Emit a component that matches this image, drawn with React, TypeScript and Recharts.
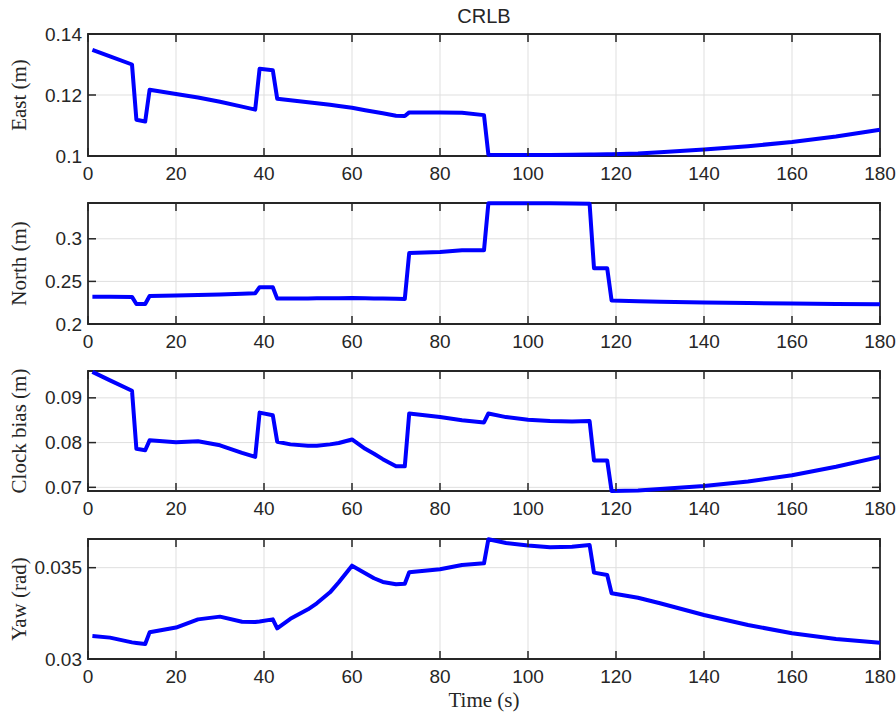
import React from 'react';
import { LineChart, Line, XAxis, YAxis, CartesianGrid, ReferenceArea } from 'recharts';

// sample times (s)
const TIME = [1, 5, 10, 11, 13, 14, 20, 25, 30, 35, 38, 39, 42, 43, 46, 50, 52, 55, 57, 60,
  63, 65, 67, 70, 72, 73, 80, 85, 90, 91, 95, 100, 105, 110, 114, 115, 118, 119, 125, 130,
  140, 150, 160, 170, 180];

const EAST = [0.1348, 0.1327, 0.1300, 0.1119, 0.1113, 0.1217, 0.1203, 0.1192, 0.1178, 0.1162,
  0.1152, 0.1286, 0.1281, 0.1188, 0.1183, 0.1176, 0.1173, 0.1168, 0.1164, 0.1158,
  0.1150, 0.1145, 0.1140, 0.1132, 0.1131, 0.1143, 0.1143, 0.1142, 0.1134, 0.1004,
  0.1003, 0.1003, 0.1003, 0.1004, 0.1005, 0.1005, 0.1006, 0.1006, 0.1008, 0.1012,
  0.1021, 0.1032, 0.1046, 0.1064, 0.1086];

const NORTH = [0.2321, 0.2320, 0.2318, 0.2235, 0.2235, 0.2329, 0.2335, 0.2340, 0.2346, 0.2355,
  0.2361, 0.2432, 0.2432, 0.2298, 0.2299, 0.2300, 0.2301, 0.2302, 0.2303, 0.2306,
  0.2302, 0.2300, 0.2298, 0.2295, 0.2294, 0.2832, 0.2845, 0.2865, 0.2865, 0.3418,
  0.3418, 0.3418, 0.3416, 0.3414, 0.3410, 0.2655, 0.2655, 0.2275, 0.2268, 0.2262,
  0.2253, 0.2246, 0.2240, 0.2236, 0.2232];

const CLOCK = [0.0958, 0.0939, 0.0916, 0.0786, 0.0783, 0.0805, 0.0801, 0.0803, 0.0794, 0.0777,
  0.0768, 0.0867, 0.0861, 0.0802, 0.0796, 0.0793, 0.0793, 0.0796, 0.0799, 0.0807,
  0.0786, 0.0775, 0.0763, 0.0747, 0.0747, 0.0865, 0.0857, 0.0850, 0.0845, 0.0865,
  0.0857, 0.0851, 0.0848, 0.0847, 0.0848, 0.0760, 0.0760, 0.0692, 0.0693, 0.0696,
  0.0703, 0.0713, 0.0727, 0.0746, 0.0768];

const YAW = [0.03126, 0.03117, 0.03091, 0.03088, 0.03082, 0.03146, 0.03172, 0.03217, 0.03232, 0.03204,
  0.03202, 0.03205, 0.03217, 0.03168, 0.03220, 0.03272, 0.03305, 0.03365, 0.03420, 0.03511,
  0.03470, 0.03442, 0.03422, 0.03409, 0.03412, 0.03475, 0.03491, 0.03515, 0.03524, 0.03656,
  0.03635, 0.03621, 0.03612, 0.03615, 0.03624, 0.03473, 0.03460, 0.03360, 0.03335, 0.03305,
  0.03241, 0.03186, 0.03141, 0.03110, 0.03089];

const X_TICKS = [0, 20, 40, 60, 80, 100, 120, 140, 160, 180];
const EAST_TICKS = [0.1, 0.12, 0.14];
const NORTH_TICKS = [0.2, 0.25, 0.3];
const CLOCK_TICKS = [0.07, 0.08, 0.09];
const YAW_TICKS = [0.03, 0.035];

const AXIS = '#262626';
const SANS = 'Arial, "Liberation Sans", Helvetica, sans-serif';
const SERIF = '"Times New Roman", "Liberation Serif", serif';
const W = 896;
const PLOT_W = 792;
const TICK = 8;
const MT = 10;

const panels = [
  { label: 'East (m)', values: EAST, domain: [0.1, 0.14], ticks: EAST_TICKS, top: 34, h: 122 },
  { label: 'North (m)', values: NORTH, domain: [0.2, 0.342], ticks: NORTH_TICKS, top: 203, h: 121 },
  { label: 'Clock bias (m)', values: CLOCK, domain: [0.06918, 0.096], ticks: CLOCK_TICKS, top: 371, h: 120 },
  { label: 'Yaw (rad)', values: YAW, domain: [0.03, 0.03657], ticks: YAW_TICKS, top: 539, h: 120 },
];

const XTick = ({ x, y, payload, plotH }: any) => (
  <g>
    <line x1={x} x2={x} y1={y} y2={y - TICK} stroke={AXIS} strokeWidth={1.5} />
    <line x1={x} x2={x} y1={y - plotH} y2={y - plotH + TICK} stroke={AXIS} strokeWidth={1.5} />
    <text x={x} y={y + 24} textAnchor="middle" fontSize={19} fill={AXIS} fontFamily={SANS}>
      {payload.value}
    </text>
  </g>
);

const YTick = ({ x, y, payload }: any) => (
  <g>
    <line x1={x} x2={x + TICK} y1={y} y2={y} stroke={AXIS} strokeWidth={1.5} />
    <line x1={x + PLOT_W} x2={x + PLOT_W - TICK} y1={y} y2={y} stroke={AXIS} strokeWidth={1.5} />
    <text x={x - 6} y={y} dy="0.35em" textAnchor="end" fontSize={19} fill={AXIS} fontFamily={SANS}>
      {payload.value}
    </text>
  </g>
);

const Panel = ({ p }: any) => {
  const data = TIME.map((t, i) => ({ t, v: p.values[i] }));
  return (
    <div style={{ position: 'absolute', left: 0, top: p.top - MT }}>
      <LineChart width={W} height={MT + p.h + 40} data={data} margin={{ top: MT, right: 16, bottom: 0, left: 0 }}>
        <CartesianGrid stroke="#dfdfdf" strokeWidth={1} />
        <XAxis
          dataKey="t"
          type="number"
          domain={[0, 180]}
          ticks={X_TICKS}
          interval={0}
          height={40}
          tickSize={0}
          tickMargin={0}
          axisLine={false}
          tickLine={false}
          tick={(props: any) => <XTick {...props} plotH={p.h} />}
        />
        <YAxis
          type="number"
          domain={p.domain}
          ticks={p.ticks}
          interval={0}
          width={88}
          tickSize={0}
          tickMargin={0}
          axisLine={false}
          tickLine={false}
          tick={(props: any) => <YTick {...props} />}
          label={{
            content: () => (
              <text
                transform={`translate(26, ${MT + p.h / 2}) rotate(-90)`}
                textAnchor="middle"
                fontSize={21}
                fill={AXIS}
                fontFamily={SERIF}
              >
                {p.label}
              </text>
            ),
          }}
        />
        <ReferenceArea x1={0} x2={180} y1={p.domain[0]} y2={p.domain[1]} fill="none" stroke={AXIS} strokeWidth={1.8} />
        <Line
          type="linear"
          dataKey="v"
          stroke="#0000ff"
          strokeWidth={4}
          strokeLinejoin="round"
          dot={false}
          isAnimationActive={false}
        />
      </LineChart>
    </div>
  );
};

export default function App() {
  return (
    <div style={{ position: 'absolute', left: 0, top: 0, width: W, height: 713, background: '#fff' }}>
      <div
        style={{
          position: 'absolute', left: 0, width: 968, top: 6, textAlign: 'center',
          fontFamily: SANS, fontSize: 20, lineHeight: '20px', color: AXIS,
        }}
      >
        CRLB
      </div>
      {panels.map((p) => (
        <Panel key={p.label} p={p} />
      ))}
      <div
        style={{
          position: 'absolute', left: 0, width: 968, top: 690, textAlign: 'center',
          fontFamily: SERIF, fontSize: 21, lineHeight: '21px', color: AXIS,
        }}
      >
        Time (s)
      </div>
    </div>
  );
}
